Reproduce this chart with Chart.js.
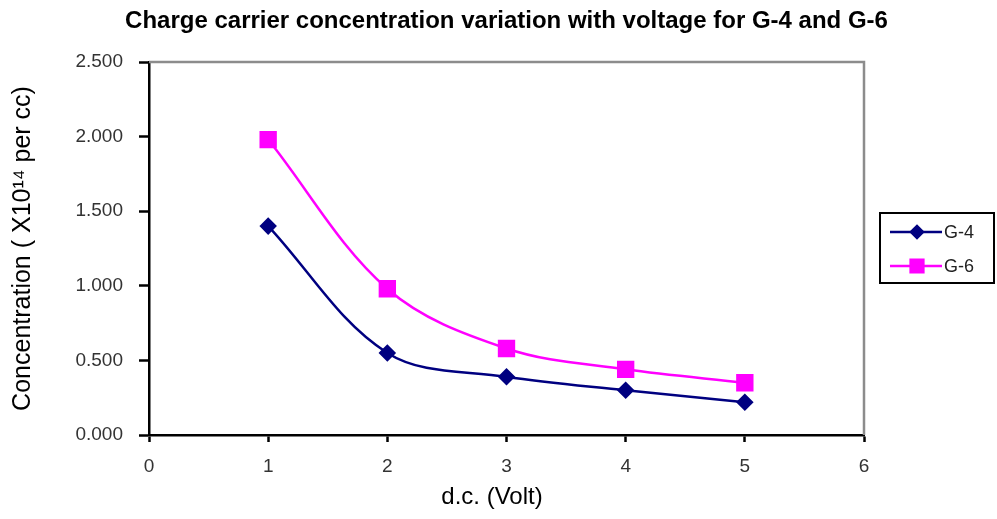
<!DOCTYPE html>
<html>
<head>
<meta charset="utf-8">
<script src="https://cdn.jsdelivr.net/npm/chart.js@4.4.1/dist/chart.umd.min.js"></script>
<style>
  html, body { margin: 0; padding: 0; background: #fff; }
  #wrap { width: 997px; height: 519px; }
</style>
</head>
<body>
<div id="wrap"><canvas id="chart"></canvas></div>
<script>
var voltage = [1, 2, 3, 4, 5];
var g4 = [1.40, 0.55, 0.39, 0.30, 0.22];
var g6 = [1.98, 0.98, 0.58, 0.44, 0.35];
var seriesNames = ['G-4', 'G-6'];
var titleText = 'Charge carrier concentration variation with voltage for G-4 and G-6';
var xTitle = 'd.c. (Volt)';
var yTitle = 'Concentration ( X10\u00b9\u2074 per cc)';

var FONT = '"Liberation Sans", Arial, sans-serif';

function toPoints(xs, ys) {
  var out = [];
  for (var i = 0; i < xs.length; i++) {
    out.push({ x: xs[i], y: ys[i] });
  }
  return out;
}

// title, x title, grey frame and boxed legend like the old excel chart
var extras = {
  id: 'extras',
  beforeDatasetsDraw: function(chart) {
    var ctx = chart.ctx;
    var a = chart.chartArea;
    ctx.save();
    ctx.strokeStyle = '#8c8c8c';
    ctx.lineWidth = 2.5;
    ctx.beginPath();
    ctx.moveTo(a.left, a.top);
    ctx.lineTo(a.right, a.top);
    ctx.lineTo(a.right, a.bottom);
    ctx.stroke();
    ctx.restore();
  },
  afterDraw: function(chart) {
    var ctx = chart.ctx;
    var a = chart.chartArea;
    ctx.save();
    ctx.fillStyle = '#000';
    ctx.font = 'bold 24px ' + FONT;
    ctx.textAlign = 'center';
    ctx.textBaseline = 'middle';
    ctx.fillText(titleText, (a.left + a.right) / 2, 21);

    ctx.font = '24px ' + FONT;
    ctx.fillText(xTitle, 492, 497);

    // legend
    var bx = 880, by = 213, bw = 114, bh = 70;
    ctx.lineWidth = 2;
    ctx.strokeStyle = '#000';
    ctx.strokeRect(bx, by, bw, bh);
    var sets = chart.data.datasets;
    for (var i = 0; i < sets.length; i++) {
      var ds = sets[i];
      var y = by + 19 + i * 34;
      ctx.strokeStyle = ds.borderColor;
      ctx.lineWidth = 2.5;
      ctx.beginPath();
      ctx.moveTo(bx + 10, y);
      ctx.lineTo(bx + 62, y);
      ctx.stroke();
      Chart.helpers.drawPoint(ctx, {
        pointStyle: ds.pointStyle,
        radius: ds.pointStyle === 'rect' ? 9 : 6,
        borderWidth: 1
      }, bx + 37, y);
      ctx.fillStyle = ds.pointBackgroundColor;
      ctx.strokeStyle = ds.pointBorderColor;
      ctx.fill();
      ctx.fillStyle = '#222';
      ctx.font = '18px ' + FONT;
      ctx.textAlign = 'left';
      ctx.fillText(ds.label, bx + 64, y + 1);
    }
    ctx.restore();
  }
};

var chart = new Chart(document.getElementById('chart'), {
  type: 'line',
  data: {
    datasets: [
      {
        label: seriesNames[0],
        data: toPoints(voltage, g4),
        borderColor: '#000080',
        backgroundColor: '#000080',
        pointBackgroundColor: '#000080',
        pointBorderColor: '#000080',
        pointStyle: 'rectRot',
        pointRadius: 7,
        borderWidth: 2.5,
        tension: 0.35,
        fill: false
      },
      {
        label: seriesNames[1],
        data: toPoints(voltage, g6),
        borderColor: '#ff00ff',
        backgroundColor: '#ff00ff',
        pointBackgroundColor: '#ff00ff',
        pointBorderColor: '#ff00ff',
        pointStyle: 'rect',
        pointRadius: 10.5,
        borderWidth: 2.5,
        tension: 0.35,
        fill: false
      }
    ]
  },
  options: {
    responsive: true,
    maintainAspectRatio: false,
    animation: false,
    layout: { padding: { top: 62, right: 133, left: 0, bottom: 0 } },
    plugins: {
      legend: { display: false },
      tooltip: { enabled: false }
    },
    scales: {
      x: {
        type: 'linear',
        min: 0,
        max: 6,
        afterFit: function(s) { s.height = 84; },
        ticks: {
          stepSize: 1,
          padding: 13,
          color: '#333',
          font: { family: FONT, size: 19 }
        },
        grid: {
          drawOnChartArea: false,
          drawTicks: true,
          tickLength: 7,
          tickWidth: 2.5,
          tickColor: '#000'
        },
        border: { color: '#000', width: 2.5 }
      },
      y: {
        min: 0,
        max: 2.5,
        afterFit: function(s) { s.width = 149; },
        ticks: {
          stepSize: 0.5,
          padding: 16,
          color: '#333',
          font: { family: FONT, size: 19 },
          callback: function(v) { return v.toFixed(3); }
        },
        grid: {
          drawOnChartArea: false,
          drawTicks: true,
          tickLength: 10,
          tickWidth: 2.5,
          tickColor: '#000'
        },
        border: { color: '#000', width: 2.5 },
        title: {
          display: true,
          text: yTitle,
          color: '#000',
          padding: { top: 8, bottom: 0 },
          font: { family: FONT, size: 25 }
        }
      }
    }
  },
  plugins: [extras]
});
</script>
</body>
</html>
